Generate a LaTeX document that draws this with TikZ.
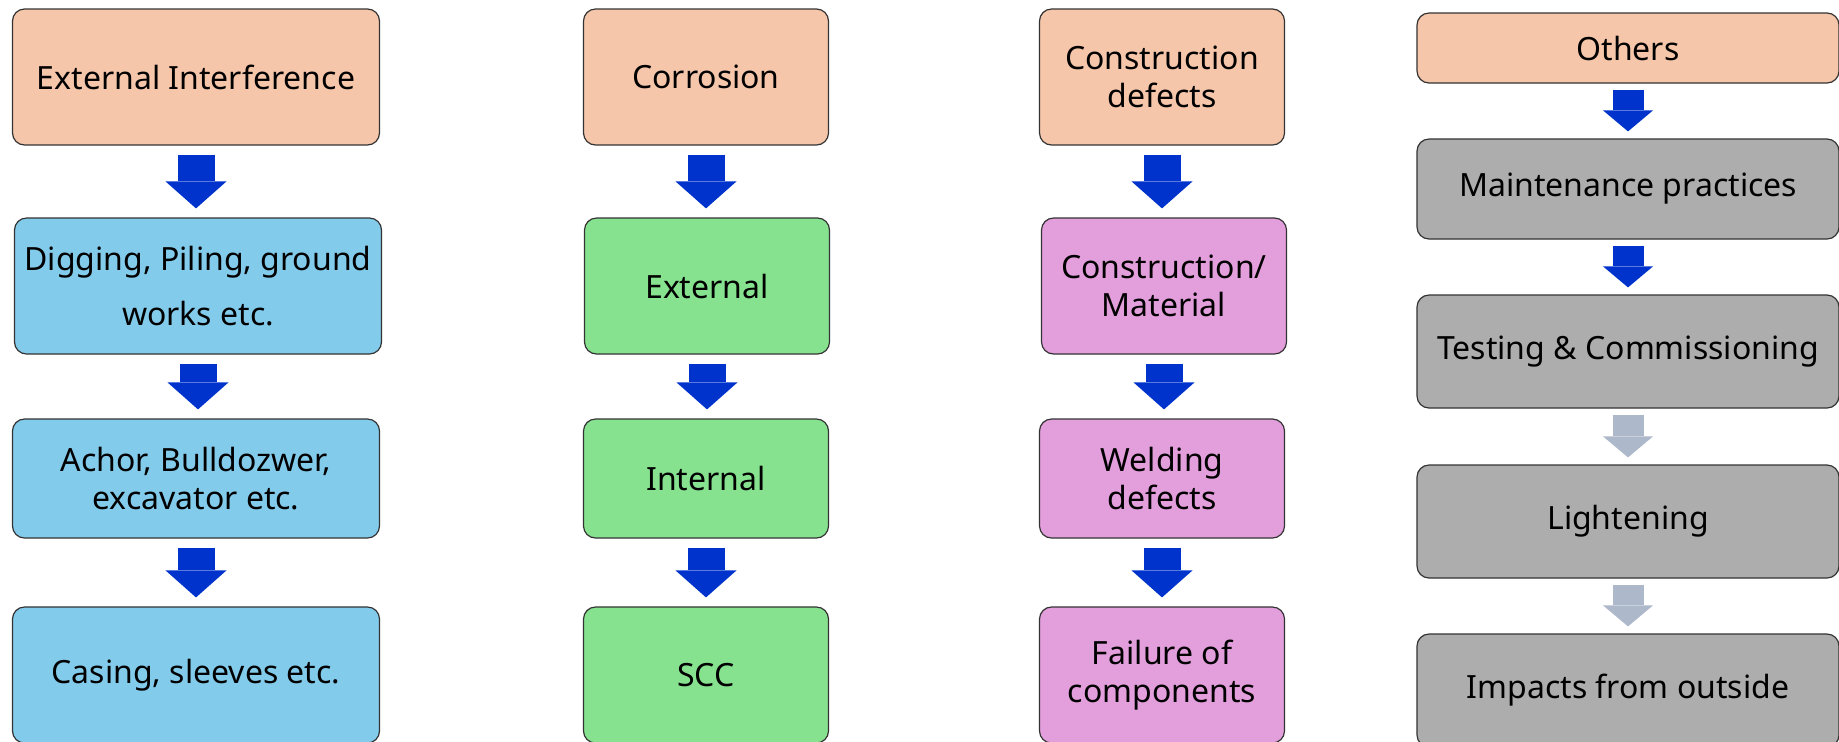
\documentclass[tikz,border=0pt]{standalone}
\usepackage{fontspec}
\setmainfont{Noto Sans}
\usetikzlibrary{arrows.meta}
\definecolor{peach}{HTML}{F5C6AA}
\definecolor{skyblue}{HTML}{83CBEB}
\definecolor{lightgreen}{HTML}{86E28F}
\definecolor{orchid}{HTML}{E39EDC}
\definecolor{midgray}{HTML}{ADADAD}
\definecolor{arrowblue}{HTML}{0033CC}
\definecolor{arrowgray}{HTML}{ADB9CA}
\begin{document}
\begin{tikzpicture}[x=0.5pt,y=-0.5pt,
    box/.style={draw=black!80,line width=0.6pt,rounded corners=6pt,align=center,inner sep=0pt,
        font=\fontsize{16}{19}\selectfont},
    wide/.style={box,minimum width=183.5pt},
    mid/.style={box,minimum width=122.5pt},
    long/.style={box,minimum width=211pt},
    bigarrow/.style={draw=arrowblue,line width=18.5pt,
        -{Triangle[width=30.5pt,length=13.5pt,line width=0pt]},shorten <=4.5pt,shorten >=4.5pt},
    smallarrow/.style={draw=arrowblue,line width=15.5pt,
        -{Triangle[width=25pt,length=10.5pt,line width=0pt]},shorten <=3pt,shorten >=3.5pt}]
    \useasboundingbox (0,0) rectangle (1839,741);
    % external interference
    \node[wide,fill=peach,minimum height=68pt] (ext) at (196,77) {External Interference};
    \node[wide,fill=skyblue,minimum height=68pt,font=\fontsize{16}{27.5}\selectfont] (dig) at (198,286) {Digging, Piling, ground\\works etc.};
    \node[wide,fill=skyblue,minimum height=59.5pt] (achor) at (196,478.5) {Achor, Bulldozwer,\\excavator etc.};
    \node[wide,fill=skyblue,minimum height=68pt] (casing) at (196,675) {Casing, sleeves etc.};
    % corrosion
    \node[mid,fill=peach,minimum height=68pt] (corr) at (706,77) {Corrosion};
    \node[mid,fill=lightgreen,minimum height=68pt] (extc) at (707,286) {External};
    \node[mid,fill=lightgreen,minimum height=59.5pt] (intc) at (706,478.5) {Internal};
    \node[mid,fill=lightgreen,minimum height=68pt] (scc) at (706,675) {SCC};
    % construction
    \node[mid,fill=peach,minimum height=68pt] (cons) at (1162,77) {Construction\\defects};
    \node[mid,fill=orchid,minimum height=68pt] (mat) at (1164,286) {Construction/\\Material};
    \node[mid,fill=orchid,minimum height=59.5pt] (weld) at (1162,478.5) {Welding\\defects};
    \node[mid,fill=orchid,minimum height=68pt] (fail) at (1162,675) {Failure of\\components};
    % others
    \node[long,fill=peach,minimum height=35pt] (oth) at (1628,48) {Others};
    \node[long,fill=midgray,minimum height=50pt] (maint) at (1628,189) {Maintenance practices};
    \node[long,fill=midgray,minimum height=56.5pt] (test) at (1628,351.5) {Testing \& Commissioning};
    \node[long,fill=midgray,minimum height=56.5pt] (light) at (1628,521.5) {Lightening};
    \node[long,fill=midgray,minimum height=56.5pt] (impact) at (1628,690.5) {Impacts from outside};
    % arrows
    \draw[bigarrow] (ext.south) -- (ext.south |- dig.north);
    \draw[bigarrow] (dig.south) -- (dig.south |- achor.north);
    \draw[bigarrow] (achor.south) -- (achor.south |- casing.north);
    \draw[bigarrow] (corr.south) -- (corr.south |- extc.north);
    \draw[bigarrow] (extc.south) -- (extc.south |- intc.north);
    \draw[bigarrow] (intc.south) -- (intc.south |- scc.north);
    \draw[bigarrow] (cons.south) -- (cons.south |- mat.north);
    \draw[bigarrow] (mat.south) -- (mat.south |- weld.north);
    \draw[bigarrow] (weld.south) -- (weld.south |- fail.north);
    \draw[smallarrow] (oth) -- (maint);
    \draw[smallarrow] (maint) -- (test);
    \draw[smallarrow,draw=arrowgray] (test) -- (light);
    \draw[smallarrow,draw=arrowgray] (light) -- (impact);
\end{tikzpicture}
\end{document}
